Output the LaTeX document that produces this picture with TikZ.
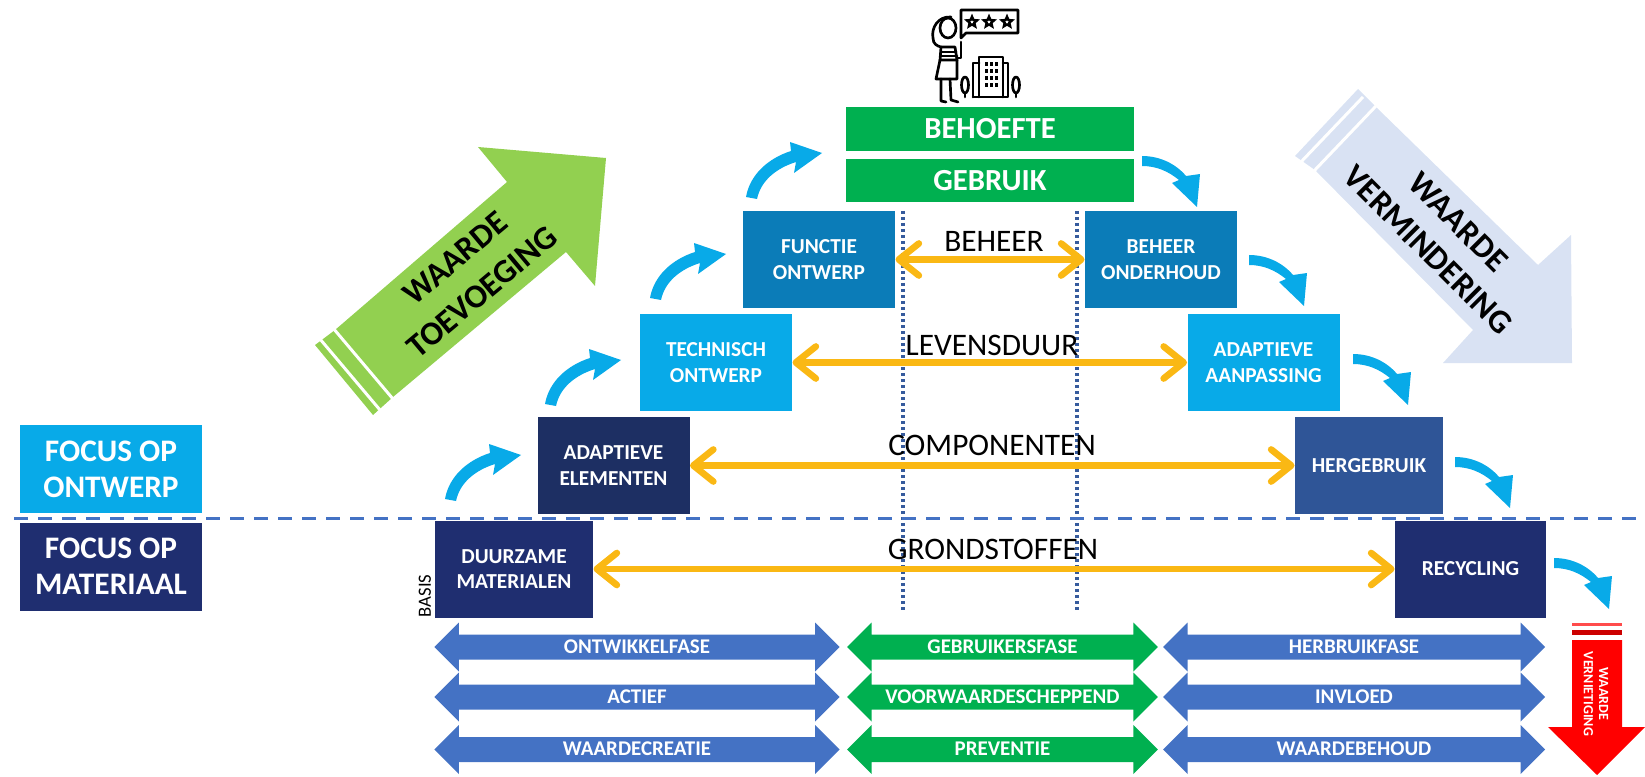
\documentclass[tikz,border=0pt]{standalone}
\usepackage{fontspec}
\setmainfont{Carlito}
\usetikzlibrary{arrows.meta,shapes.arrows,shapes.geometric}

\definecolor{groen}{RGB}{0,176,80}
\definecolor{balkblauw}{RGB}{68,114,196}
\definecolor{licht}{RGB}{8,170,232}
\definecolor{midden}{RGB}{11,124,184}
\definecolor{donker}{RGB}{29,47,99}
\definecolor{marine}{RGB}{31,46,112}
\definecolor{staal}{RGB}{47,85,151}
\definecolor{oker}{RGB}{250,184,20}
\definecolor{lime}{RGB}{146,208,80}
\definecolor{grijsblauw}{RGB}{217,226,243}

\tikzset{every picture/.style={line width=0.75pt}}
\tikzset{
  boxnode/.style={inner sep=0pt,align=center,text=white,minimum height=72.75pt,minimum width=114pt,
    font=\fontsize{16}{19}\selectfont\bfseries},
  topbox/.style={inner sep=0pt,fill=groen,text=white,minimum width=216pt,minimum height=32.5pt,
    font=\fontsize{23}{26}\selectfont\bfseries},
  focusnode/.style={inner sep=0pt,align=center,text=white,minimum width=136pt,minimum height=66pt,
    font=\fontsize{23.5}{27}\selectfont\bfseries},
  levellabel/.style={inner sep=0pt,font=\fontsize{23.5}{25}\selectfont},
  yellowarrow/.style={draw=oker,line width=5pt,{Straight Barb[length=15pt,width=24pt,round]}-{Straight Barb[length=15pt,width=24pt,round]}},
  fasebar/.style={double arrow,inner sep=0pt,text=white,text height=13.5pt,text depth=4.5pt,double arrow head extend=9pt,
    font=\fontsize{15.7}{18}\selectfont\bfseries},
  biglabel/.style={inner sep=0pt,font=\fontsize{25}{30}\selectfont\bfseries},
  bendup/.pic={\fill[licht,yscale=-1] (-5,-1) .. controls (-1,-24) and (18,-40) .. (40,-47) -- (39,-56) -- (71,-45) -- (43,-25) -- (45,-36) .. controls (26,-30) and (10,-18) .. (6,1) -- cycle;},
  benddown/.pic={\fill[licht,yscale=-1] (0,-5) .. controls (18,-5) and (34,3) .. (44,15) -- (58,13) -- (55,46) -- (30,22) -- (37,19) .. controls (26,10) and (14,5) .. (0,5) -- cycle;},
  icon/.style={line width=2pt,line join=round,line cap=round}
}

\begin{document}
\begin{tikzpicture}[x=0.75pt,y=0.75pt,yscale=-1,xscale=1]
\useasboundingbox (0,0) rectangle (1645,777);

% big arrows
\fill[lime] (335,330) -- (507,182) -- (478,147) -- (606,158) -- (595,286) -- (566,252) -- (393,397) -- (373,415) -- (315,345) -- cycle;
\draw[white,line width=2.25pt] (333,328) -- (393,399);
\draw[white,line width=2.25pt] (320,339) -- (380,410);
\fill[grijsblauw] (1377,108) -- (1538,265) -- (1571,235) -- (1572,363) -- (1443,363) -- (1473,330) -- (1315,170) -- (1295,156) -- (1358,89) -- cycle;
\draw[white,line width=2.25pt] (1376,106) -- (1313,172);
\draw[white,line width=2.25pt] (1363,97) -- (1300,163);
\node (waardeA) [biglabel,rotate=40] at (455,258) {WAARDE};
\node (waardeB) [biglabel,rotate=40] at (482,292) {TOEVOEGING};
\node (waardeC) [biglabel,rotate=-45] at (1458,222) {WAARDE};
\node (waardeD) [biglabel,rotate=-45] at (1428,250) {VERMINDERING};

% dotted lines
\coordinate (dotAtop) at (903,211);
\coordinate (dotAbot) at (903,612);
\coordinate (dotBtop) at (1077,211);
\coordinate (dotBbot) at (1077,612);
\draw[balkblauw!80!black,line width=2.5pt,dash pattern=on 2pt off 2.5pt] (dotAtop) -- (dotAbot);
\draw[balkblauw!80!black,line width=2.5pt,dash pattern=on 2pt off 2.5pt] (dotBtop) -- (dotBbot);

% top
\node (behoefte) [topbox] at (990,129) {BEHOEFTE};
\node (gebruik) [topbox] at (990,180.5) {GEBRUIK};

% boxes
\node (functie) [boxnode,fill=midden] at (819,259.5) {FUNCTIE\\ONTWERP};
\node (onderhoud) [boxnode,fill=midden] at (1161,259.5) {BEHEER\\ONDERHOUD};
\node (technisch) [boxnode,fill=licht] at (716,362.5) {TECHNISCH\\ONTWERP};
\node (aanpassing) [boxnode,fill=licht] at (1263.5,362.5) {ADAPTIEVE\\AANPASSING};
\node (elementen) [boxnode,fill=donker] at (613.5,465.5) {ADAPTIEVE\\ELEMENTEN};
\node (hergebruik) [boxnode,fill=staal,minimum width=111pt] at (1369,465.5) {HERGEBRUIK};
\node (materialen) [boxnode,fill=marine,minimum width=118.5pt] at (514,569) {DUURZAME\\MATERIALEN};
\node (recycling) [boxnode,fill=marine,minimum width=113.25pt] at (1470.5,569) {RECYCLING};
\node (basis) [inner sep=0pt,rotate=90,font=\fontsize{14}{16}\selectfont] at (425,596) {BASIS};

% focus
\node (ontwerp) [focusnode,fill=licht] at (111,469) {FOCUS OP\\ONTWERP};
\node (materiaal) [focusnode,fill=marine] at (111,566.5) {FOCUS OP\\MATERIAAL};

% dashed line
\coordinate (streepL) at (14,518);
\coordinate (streepR) at (1645,518);
\draw[balkblauw,line width=2.25pt,dash pattern=on 10.5pt off 7.5pt] (streepL) -- (streepR);

% yellow arrows
\draw[yellowarrow] (functie.east) -- (onderhoud.west);
\draw[yellowarrow] (technisch.east) -- (aanpassing.west);
\draw[yellowarrow] (elementen.east) -- (hergebruik.west);
\draw[yellowarrow] (materialen.east) -- (recycling.west);
\node (beheer) [levellabel] at (994,241) {BEHEER};
\node (levensduur) [levellabel] at (992,345) {LEVENSDUUR};
\node (componenten) [levellabel] at (992,445) {COMPONENTEN};
\node (grondstoffen) [levellabel] at (993,549) {GRONDSTOFFEN};

% curved arrows
\foreach \tx/\ty in {450/500,550/405,655/299,751/198}
  \path (\tx,\ty) pic {bendup};
\foreach \tx/\ty in {1142/161,1249/260,1353/359,1455/462,1554/563}
  \path (\tx,\ty) pic {benddown};

% bars
\foreach \nm/\ty/\lA/\lB/\lC in {a/647/ONTWIKKELFASE/GEBRUIKERSFASE/HERBRUIKFASE,b/697/ACTIEF/VOORWAARDESCHEPPEND/INVLOED,c/749.5/WAARDECREATIE/PREVENTIE/WAARDEBEHOUD}{
  \node (links\nm) [fasebar,fill=balkblauw,minimum height=304pt,minimum width=36pt] at (637,\ty) {\lA};
  \node (mid\nm) [fasebar,fill=groen,minimum height=233pt,minimum width=36pt] at (1002.5,\ty) {\lB};
  \node (rechts\nm) [fasebar,fill=balkblauw,minimum height=286.5pt,minimum width=36pt] at (1354,\ty) {\lC};
}

% red arrow
\fill[red] (1572,640) -- (1622,640) -- (1622,727) -- (1645,727) -- (1597,775) -- (1548,727) -- (1572,727) -- cycle;
\fill[red!80!black] (1572,630) rectangle (1622,635);
\fill[red!70!white] (1572,623) rectangle (1622,626);
\node (vernietiging) [inner sep=0pt,rotate=-90,align=center,text=white,font=\fontsize{10.5}{11.5}\selectfont\bfseries] at (1596,694) {WAARDE\\VERNIETIGING};

% icon, balloon
\draw[icon] (961,38) -- (961,10) -- (1018,10) -- (1018,33) -- (966,33) -- cycle;
\foreach \sx [count=\si] in {972,989,1007}
  \node (ster\si) [star,star points=5,star point ratio=2.2,draw=black,line width=1.8pt,inner sep=0pt,minimum size=8pt] at (\sx,22) {};
% icon, person
\draw[icon] (948,28) ellipse (8 and 10);
\draw[icon] (951,17) .. controls (938,16) and (931,28) .. (933,38) .. controls (933,44) and (937,46) .. (941,47);
\draw[icon] (941,47) -- (955,47) -- (957,60) -- (940,60) -- cycle;
\draw[icon] (942,52) -- (956,52);
\draw[icon] (941,56) -- (957,56);
\draw[icon] (957,58) -- (961,58) -- (961,42);
\draw[icon] (940,60) -- (936,79) -- (957,79) -- (957,60);
\draw[icon] (941,79) -- (941,101) -- (946,102);
\draw[icon] (950,79) -- (951,100) -- (958,102);
% icon, building
\draw[icon] (979,97) -- (979,57) -- (1003,57) -- (1003,97);
\draw[icon] (973,97) -- (973,63) -- (979,63);
\draw[icon] (1003,63) -- (1008,63) -- (1008,97) -- (973,97);
\foreach \wx in {986,991,996}
  \foreach \wy in {64,71,78,85}
    \fill (\wx-1,\wy-1.5) rectangle (\wx+1.5,\wy+2);
\draw[icon] (965,85) ellipse (3.5 and 8);
\draw[icon] (965,93) -- (965,97);
\draw[icon] (1016,85) ellipse (3.5 and 8);
\draw[icon] (1016,93) -- (1016,97);

\end{tikzpicture}
\end{document}
